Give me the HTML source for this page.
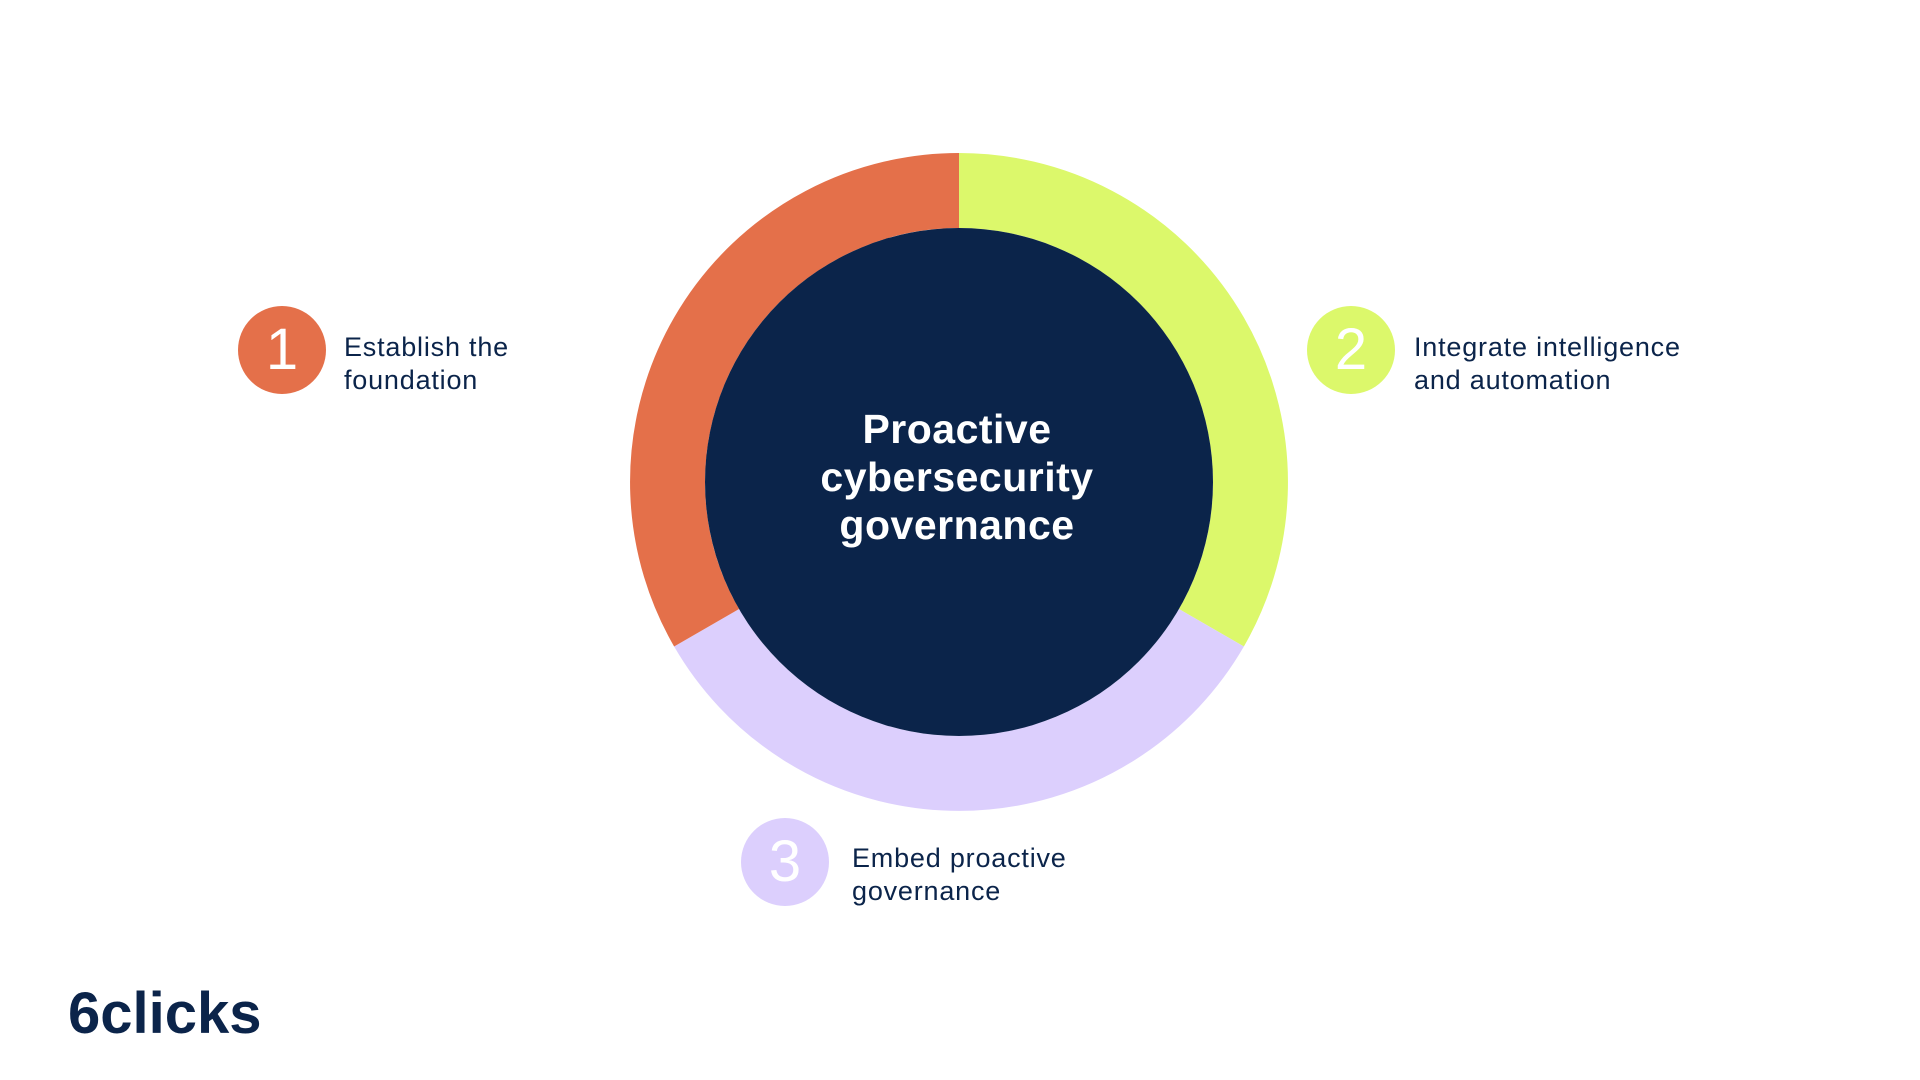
<!DOCTYPE html>
<html><head><style>
body{margin:0;width:1920px;height:1080px;background:#fff;position:relative;overflow:hidden;font-family:"Liberation Sans",sans-serif;}
.t{position:absolute;color:#0B244A;font-size:27px;line-height:33px;letter-spacing:0.8px;}
.n{position:absolute;width:88px;height:88px;border-radius:50%;color:#fff;font-size:58px;line-height:88px;text-align:center;font-weight:300;}
</style></head><body>
<svg width="1920" height="1080" style="position:absolute;left:0;top:0">
<g fill="none" stroke-width="75">
<path d="M959 190.5 A291.5 291.5 0 0 1 1211.4 627.75" stroke="#DCF86B"/>
<path d="M1211.4 627.75 A291.5 291.5 0 0 1 706.6 627.75" stroke="#DCCFFD"/>
<path d="M706.6 627.75 A291.5 291.5 0 0 1 959 190.5" stroke="#E4704A"/>
</g>
<circle cx="959" cy="482" r="254" fill="#0B244A"/>
<g fill="#fff" font-family="Liberation Sans, sans-serif" font-weight="bold" font-size="41" text-anchor="middle" letter-spacing="0.5">
<text x="957" y="443">Proactive</text>
<text x="957" y="491">cybersecurity</text>
<text x="957" y="539">governance</text>
</g>
</svg>
<div class="n" style="left:238px;top:306px;background:#E4704A">1</div>
<div class="n" style="left:1307px;top:306px;background:#DCF86B">2</div>
<div class="n" style="left:741px;top:818px;background:#DCCFFD">3</div>
<div class="t" style="left:344px;top:331px">Establish the<br>foundation</div>
<div class="t" style="left:1414px;top:331px">Integrate intelligence<br>and automation</div>
<div class="t" style="left:852px;top:842px">Embed proactive<br>governance</div>
<div style="position:absolute;left:68px;top:980px;font-size:58px;font-weight:bold;color:#0B244A;letter-spacing:0px">6clicks</div>
</body></html>
